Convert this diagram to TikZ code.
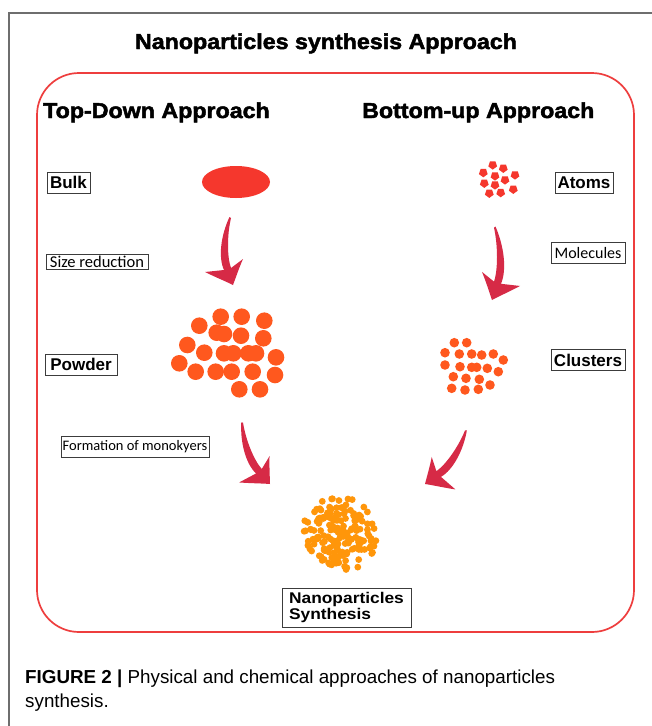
\documentclass[tikz,border=0pt]{standalone}
\usepackage{fontspec}
\setmainfont{Liberation Sans}
\newfontfamily\headfont[FakeStretch=1.08, BoldFeatures={FakeBold=2.2}]{Liberation Sans}
\newfontfamily\lblfont{Carlito}
\newfontfamily\npfont[FakeStretch=1.12]{Liberation Sans}
\definecolor{framegray}{RGB}{110,110,110}
\definecolor{boxred}{RGB}{238,62,62}
\definecolor{bulkred}{RGB}{245,55,45}
\definecolor{powderorange}{RGB}{255,88,30}
\definecolor{nanoorange}{RGB}{255,150,10}
\definecolor{arrowred}{RGB}{214,42,70}
\definecolor{labelframe}{RGB}{60,60,60}
\tikzset{
  heading/.style={font=\headfont\fontsize{21.5}{24}\selectfont\bfseries, inner sep=0pt},
  boldlabel/.style={draw=labelframe, line width=0.7pt, inner sep=0pt,
    font=\fontsize{17}{20}\selectfont\bfseries},
  thinlabel/.style={draw=labelframe, line width=0.7pt, inner sep=0pt,
    font=\lblfont\fontsize{16}{19}\selectfont},
  swoosh/.pic={
    \fill[arrowred] (-3.5,-68) .. controls (-12,-50) and (-15,-28) .. (-9,-15)
      -- (-28,-13) .. controls (-18,-8) and (-8,-4) .. (0,0)
      .. controls (3,-8) and (6,-17) .. (10,-26) -- (-2,-17)
      .. controls (-6,-28) and (-6,-50) .. (-2,-67) -- cycle;
  },
  powder/.style={fill=powderorange},
  atom/.style={fill=bulkred},
}
\begin{document}
\begin{tikzpicture}[x=1pt,y=-1pt]
\useasboundingbox (0,0) rectangle (652,726);
\fill[white] (0,0) rectangle (652,726);

% outer frame lines
\draw[framegray, line width=1.4pt] (9,726) -- (9,13) -- (652,13);

% title
\node[heading, anchor=base] (title) at (326,49) {Nanoparticles synthesis Approach};

% red rounded box
\draw[boxred, line width=1.7pt, rounded corners=42pt] (37,73) rectangle (634,632);

\node[heading, anchor=base west] (td) at (43,118) {Top-Down Approach};
\node[heading, anchor=base west] (bu) at (362,118) {Bottom-up Approach};

% labels
\node[boldlabel, minimum width=43pt, minimum height=21pt] (bulk) at (68.5,182.5) {Bulk};
\node[thinlabel, font=\lblfont\fontsize{16.5}{19}\selectfont, minimum width=102pt, minimum height=15pt] (size) at (97,262) {Size reduction};
\node[boldlabel, minimum width=72pt, minimum height=21pt] (powderlbl) at (81,364.5) {Powder};
\node[thinlabel, font=\lblfont\fontsize{14.5}{17}\selectfont, minimum width=148pt, minimum height=21pt] (formation) at (135,446.5) {Formation of monokyers};
\node[boldlabel, minimum width=58pt, minimum height=21pt] (atoms) at (584,182.5) {Atoms};
\node[thinlabel, minimum width=74pt, minimum height=21pt] (molecules) at (588,252.5) {Molecules};
\node[boldlabel, minimum width=74pt, minimum height=21pt] (clusters) at (588,360) {Clusters};
\node[draw=labelframe, line width=0.7pt, inner sep=0pt, minimum width=129pt, minimum height=39pt,
  align=left, font=\npfont\fontsize{15.5}{14}\selectfont\bfseries] (nps) at (346.5,607.5) {Nanoparticles\\Synthesis};

% bulk
\fill[bulkred] (236,182) ellipse [x radius=34pt, y radius=16pt];

% powder
\foreach \px/\py in {220.7/316.7,241.7/316.7,264.3/320.7,199.3/325.7,216.7/332.7,224/334,
  241/335.7,263.3/338.3,187.3/345,204.3/352.7,224/353.3,233.3/353.3,248.3/353.3,256/353.3,
  276/357.3,179.3/363.3,195.7/371.7,215.7/371.7,231.7/371.7,252.7/371.7,275/375,
  239.3/389.3,260/389.3}
  \fill[powder] (\px,\py) circle[radius=8.3pt];

% atoms (pentagons)
\foreach \px/\py in {483.3/172.7,492.7/165,503.3/168.3,515/175,495/176,505/180,
  484.3/183.3,495/185,513.3/189.3,489.3/193.3,500.7/192.7}
  \fill[atom] (\px,\py) +(-90:4.6pt) -- +(-18:4.6pt) -- +(54:4.6pt) -- +(126:4.6pt) -- +(198:4.6pt) -- cycle;

% clusters
\foreach \px/\py in {454.3/342.7,466.7/342.7,445/352.7,459.3/354,471.7/354,481.7/355,
  493.3/354,503.3/360,445/365,460/366.7,471.7/367.3,476.7/367.3,487.3/368.3,498.3/371.7,
  453.3/376.7,466/378.3,479.3/379.3,490/385,451.7/388.3,465/390,478.3/389.3}
  \fill[powder] (\px,\py) circle[radius=4.8pt];

% nanoparticles cloud
\pgfmathsetseed{31}
\foreach \i in {1,...,175}{
  \pgfmathsetmacro\rr{pow(rnd,0.6)}
  \pgfmathsetmacro\aa{360*rnd}
  \fill[nanoorange] ({341+37*\rr*cos(\aa)+4*\rr*sin(\aa)},{533+37*\rr*sin(\aa)}) circle[radius=3.4pt];
}

% arrows
\pic at (233,285) {swoosh};
\pic[xscale=-1, yscale=1.08] at (492,300) {swoosh};
\pic[rotate=22] at (270,484) {swoosh};
\pic[rotate=-35, xscale=-1] at (425,484) {swoosh};

% caption
\node[anchor=base west, inner sep=0pt, font=\fontsize{18.8}{22}\selectfont] (cap1) at (25,683)
  {\textbf{FIGURE 2 |} Physical and chemical approaches of nanoparticles};
\node[anchor=base west, inner sep=0pt, font=\fontsize{18.8}{22}\selectfont] (cap2) at (25,707)
  {synthesis.};
\end{tikzpicture}
\end{document}
